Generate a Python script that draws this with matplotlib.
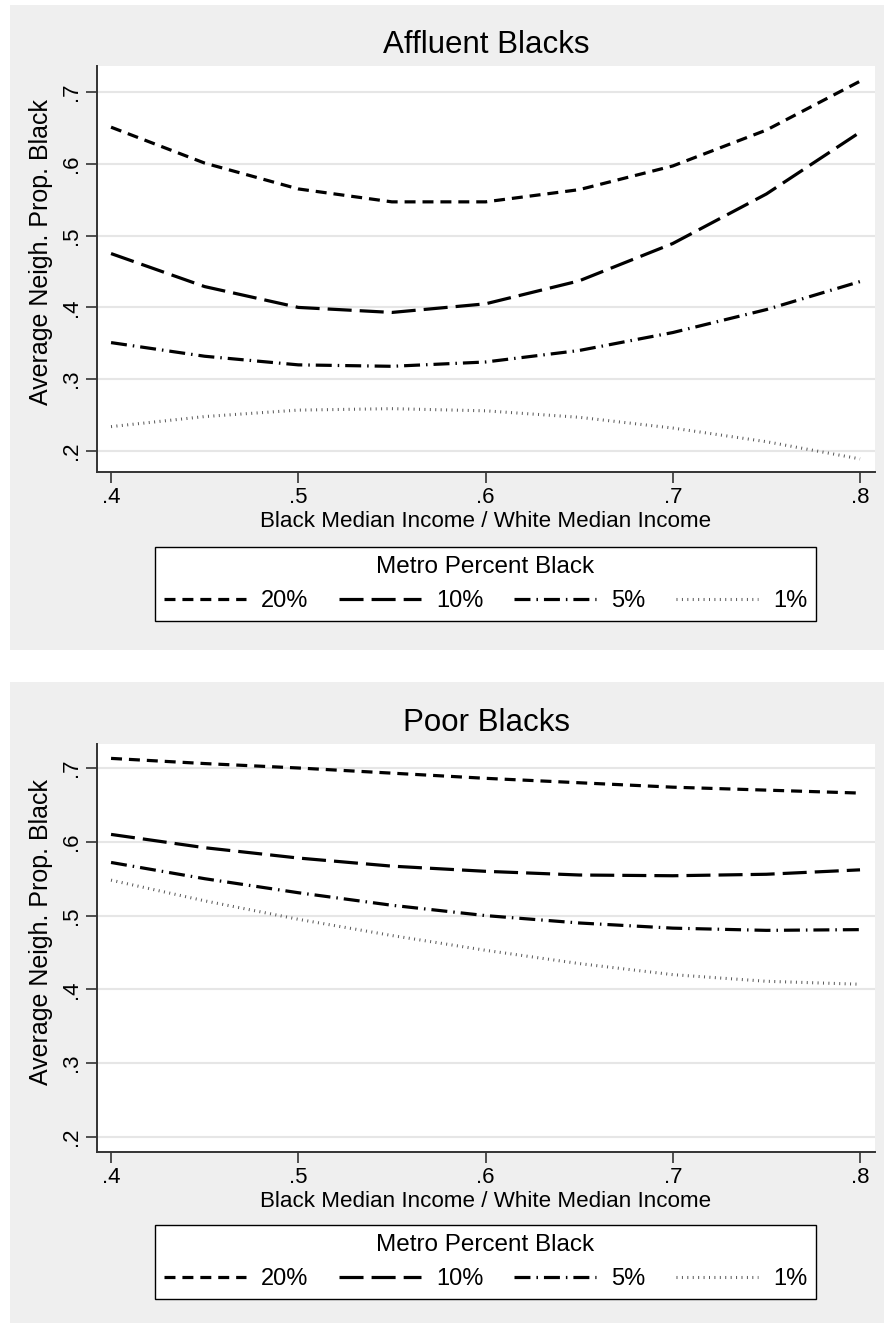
import matplotlib
matplotlib.use("Agg")
import matplotlib.pyplot as plt
from matplotlib.patches import Rectangle

plt.rcParams['font.family'] = ['Liberation Sans', 'DejaVu Sans']
plt.rcParams['lines.scale_dashes'] = False

# ratio of black to white median income
ingreso = [0.40, 0.45, 0.50, 0.55, 0.60, 0.65, 0.70, 0.75, 0.80]

# average neighbourhood proportion black, affluent blacks
rico_20 = [0.651, 0.601, 0.565, 0.547, 0.547, 0.564, 0.597, 0.647, 0.715]
rico_10 = [0.475, 0.429, 0.400, 0.393, 0.405, 0.437, 0.489, 0.558, 0.644]
rico_5 = [0.351, 0.332, 0.320, 0.318, 0.324, 0.340, 0.365, 0.397, 0.436]
rico_1 = [0.234, 0.248, 0.257, 0.259, 0.256, 0.247, 0.232, 0.213, 0.189]

# average neighbourhood proportion black, poor blacks
pobre_20 = [0.713, 0.706, 0.700, 0.693, 0.686, 0.680, 0.674, 0.670, 0.666]
pobre_10 = [0.610, 0.592, 0.578, 0.567, 0.560, 0.555, 0.554, 0.556, 0.562]
pobre_5 = [0.572, 0.550, 0.531, 0.514, 0.500, 0.490, 0.483, 0.480, 0.481]
pobre_1 = [0.548, 0.520, 0.495, 0.473, 0.453, 0.435, 0.420, 0.411, 0.407]

etiquetas = ['20%', '10%', '5%', '1%']
ticks_x = [0.4, 0.5, 0.6, 0.7, 0.8]
ticks_y = [0.2, 0.3, 0.4, 0.5, 0.6, 0.7]
txt_x = ['.4', '.5', '.6', '.7', '.8']
txt_y = ['.2', '.3', '.4', '.5', '.6', '.7']

# line styles: (color, width, dashes in points)
estilos = [
    ('black', 2.3, (7.9, 5.0)),
    ('black', 2.3, (17.3, 5.8)),
    ('black', 2.3, (11.5, 4.3, 1.1, 4.3)),
    ('#555555', 2.2, (0.7, 3.2)),
]

W, H = 884, 1323
fig = plt.figure(figsize=(W / 100, H / 100), dpi=100, facecolor='white')

GRIS = '#efefef'


def caja(y0, y1):
    fig.patches.append(Rectangle((10 / W, 1 - y1 / H), 874 / W, (y1 - y0) / H,
                                 transform=fig.transFigure, facecolor=GRIS,
                                 edgecolor='none', zorder=-10))


def panel(top, bottom, ylim, series, titulo, legend_y, ylab_y):
    ax = fig.add_axes([97 / W, 1 - bottom / H, 778 / W, (bottom - top) / H])
    ax.set_facecolor('white')
    for vals, lab, (col, lw, dsh) in zip(series, etiquetas, estilos):
        ax.plot(ingreso, vals, color=col, lw=lw, dashes=dsh, label=lab)
    ax.set_xlim(0.3925, 0.808)
    ax.set_ylim(*ylim)
    ax.set_xticks(ticks_x)
    ax.set_xticklabels(txt_x, fontsize=16)
    ax.set_yticks(ticks_y)
    ax.set_yticklabels(txt_y, fontsize=16, rotation=90, va='center')
    ax.tick_params(length=8, width=1.2, color='#333333', pad=3)
    ax.grid(axis='y', color='#e6e6e6', lw=1.5)
    ax.set_axisbelow(True)
    for s in ['top', 'right']:
        ax.spines[s].set_visible(False)
    for s in ['left', 'bottom']:
        ax.spines[s].set_color('#333333')
        ax.spines[s].set_linewidth(1.4)
    ax.set_xlabel('Black Median Income / White Median Income', fontsize=16.1, labelpad=2)
    ax.set_ylabel('Average Neigh. Prop. Black', fontsize=18)
    ax.yaxis.set_label_coords(-44 / 778, (bottom - ylab_y) / (bottom - top))
    fig.text(486 / W, 1 - (top - 21) / H, titulo, fontsize=22.5, ha='center', va='center')
    leg = ax.legend(loc='center', bbox_to_anchor=(485.5 / W, 1 - legend_y / H),
                    bbox_transform=fig.transFigure, ncol=4,
                    title='Metro Percent Black', title_fontsize=17.5, fontsize=17,
                    frameon=True, fancybox=False, framealpha=1, edgecolor='black',
                    handlelength=3.5, handletextpad=0.63, columnspacing=1.28,
                    borderpad=0.38, labelspacing=0.5)
    leg.get_frame().set_linewidth(1.0)
    return ax


caja(5, 650)
caja(682, 1323)

panel(66, 472, (0.1708, 0.7362), [rico_20, rico_10, rico_5, rico_1],
      'Affluent Blacks', 584, 252)
panel(744, 1152, (0.1797, 0.7325), [pobre_20, pobre_10, pobre_5, pobre_1],
      'Poor Blacks', 1262, 932)

fig.savefig('out.png', dpi=100, facecolor='white')
